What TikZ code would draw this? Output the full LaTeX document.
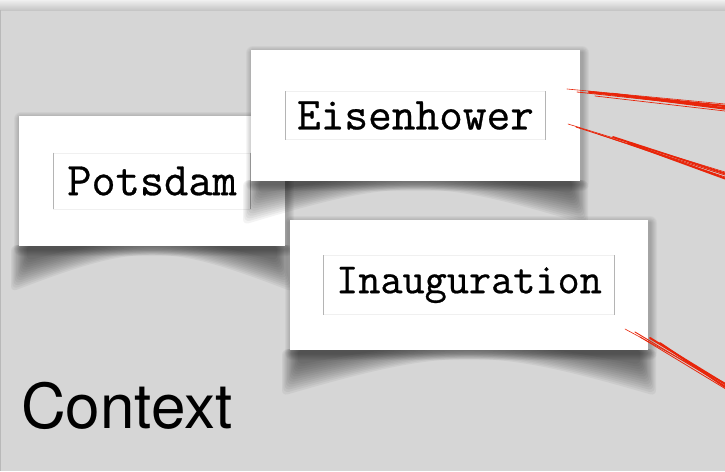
\documentclass[tikz,border=0pt]{standalone}
\usepackage{fontspec}
\newfontfamily\ctxfont{TeX Gyre Heros}
\newfontfamily\twfont{Latin Modern Mono}[FakeBold=0.6]
\definecolor{bg}{HTML}{D6D6D6}
\definecolor{scribble}{HTML}{E8250A}
\definecolor{innerline}{HTML}{F0F0F0}
\definecolor{sideline}{HTML}{B4B4B4}
\tikzset{
  card/.style={fill=white, draw=none, inner sep=0pt},
  label/.style={draw=innerline, line width=0.8pt, inner sep=0pt, font=\twfont, text=black},
  redline/.style={draw=scribble, line width=0.8pt, line cap=round},
}
\newcommand{\curlshadow}[4]{% L R B D
  \foreach \i in {0,...,12}{
    \fill[black, opacity=0.048, rounded corners=6pt]
      ({#1-8+\i*1.3}, {#3-1}) -- ({#1-8+\i*1.3}, {#3+#4+8-\i*2.6})
      .. controls ({#1+0.45*(#2-#1)}, {#3-3-\i*0.9}) and ({#2-0.45*(#2-#1)}, {#3-3-\i*0.9}) ..
      ({#2+8-\i*1.3}, {#3+#4+8-\i*2.6}) -- ({#2+8-\i*1.3}, {#3-1}) -- cycle;
  }
}
\newcommand{\dropshadow}[4]{% L T R B
  \foreach \i in {1,...,7}{
    \fill[black, opacity=0.035, rounded corners=\i pt]
      ({#1-\i+2}, {#2-\i+3}) rectangle ({#3+\i+2}, {#4+\i+3});
  }
}
\newcommand{\sides}[1]{%
  \draw[sideline, line width=1pt] (#1.north west) -- (#1.south west);
  \draw[sideline, line width=1pt] (#1.north east) -- (#1.south east);
}
\begin{document}
\begin{tikzpicture}[x=1pt, y=-1pt]
\useasboundingbox (0,0) rectangle (725,471);
\fill[bg] (0,0) rectangle (725,471);
\shade[top color=gray!12, bottom color=gray!45] (0,0) rectangle (725,10);
\fill[gray!55] (0,10) rectangle (1,471);

% Potsdam
\curlshadow{19}{285}{246}{38}
\dropshadow{19}{116}{285}{246}
\node[card, minimum width=266pt, minimum height=130pt] (pcard) at (152,181) {};
\node[label, minimum width=197pt, minimum height=56pt] (potsdam) at (pcard.center)
  {\fontsize{47}{47}\selectfont Potsdam};
\sides{potsdam}

% Eisenhower
\curlshadow{251}{580}{181}{36}
\dropshadow{251}{50}{580}{181}
\node[card, minimum width=329pt, minimum height=131pt] (ecard) at (415.5,115.5) {};
\node[label, minimum width=260pt, minimum height=48pt] (eisen) at (ecard.center)
  {\fontsize{46}{46}\selectfont Eisenhower};
\sides{eisen}

% Inauguration
\curlshadow{290}{648}{350}{38}
\dropshadow{290}{220}{648}{350}
\node[card, minimum width=358pt, minimum height=130pt] (icard) at (469,285) {};
\node[label, minimum width=291pt, minimum height=59pt] (inaug) at (icard.center)
  {\fontsize{43}{43}\selectfont Inauguration};
\sides{inaug}

% Context
\node[anchor=base west, inner sep=0pt, font=\ctxfont\fontsize{62}{62}\selectfont] (context) at (21,428) {Context};

% red scribbles
\coordinate (a1) at (567,89);
\coordinate (b1) at (725,104);
\coordinate (a2) at (568,124);
\coordinate (b2) at (725,172);
\coordinate (a3) at (625,329);
\coordinate (b3) at (725,383);

\draw[redline, line width=0.6pt] (a1) -- (b1);
\draw[redline, line width=2.2pt] ([shift={(22,3)}]a1) -- ([shift={(0,2)}]b1);
\draw[redline, line width=0.8pt] ([shift={(10,3)}]a1) -- ([shift={(0,4)}]b1);
\draw[redline, line width=2.4pt] ([shift={(45,5)}]a1) -- ([shift={(0,4.5)}]b1);
\draw[redline, line width=0.7pt] ([shift={(28,7)}]a1) -- ([shift={(0,7)}]b1);

\draw[redline, line width=0.6pt] (a2) -- (b2);
\draw[redline, line width=0.9pt] ([shift={(8,3)}]a2) -- ([shift={(0,3)}]b2);
\draw[redline, line width=1.8pt] ([shift={(45,13)}]a2) -- ([shift={(0,1.5)}]b2);
\draw[redline, line width=0.8pt] ([shift={(30,10)}]a2) -- ([shift={(0,5)}]b2);
\draw[redline, line width=2.0pt] ([shift={(60,19)}]a2) -- ([shift={(0,6.5)}]b2);

\draw[redline, line width=0.6pt] (a3) -- (b3);
\draw[redline, line width=0.9pt] ([shift={(10,3)}]a3) -- ([shift={(0,3)}]b3);
\draw[redline, line width=2.0pt] ([shift={(25,9)}]a3) -- ([shift={(0,1)}]b3);
\draw[redline, line width=0.8pt] ([shift={(15,8)}]a3) -- ([shift={(0,5.5)}]b3);
\draw[redline, line width=1.8pt] ([shift={(35,14)}]a3) -- ([shift={(0,4)}]b3);
\end{tikzpicture}
\end{document}
